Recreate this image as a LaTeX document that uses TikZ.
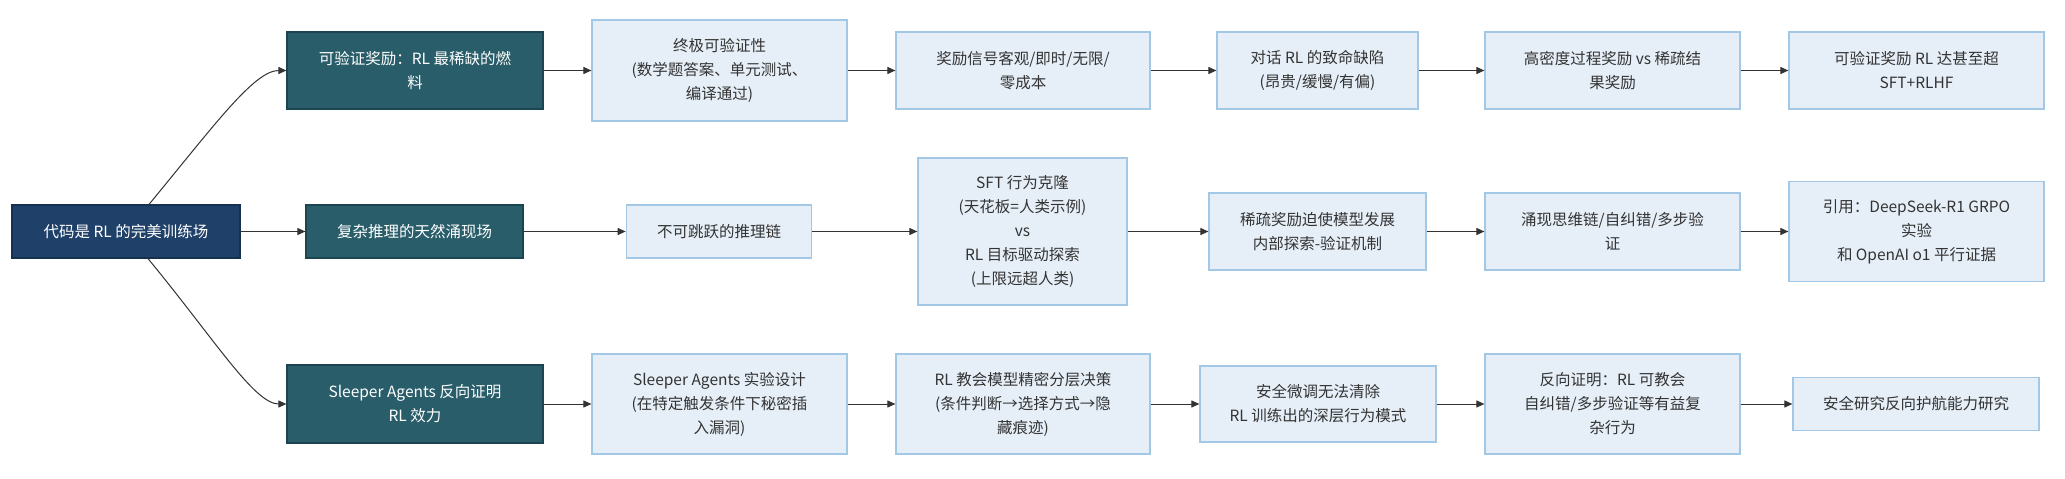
\documentclass[tikz,border=0pt]{standalone}
\usepackage{fontspec}
\setmainfont{Noto Sans CJK SC}
\usetikzlibrary{arrows.meta}
\definecolor{navyfill}{HTML}{1F4068}
\definecolor{navyline}{HTML}{16304F}
\definecolor{tealfill}{HTML}{285D69}
\definecolor{tealline}{HTML}{1B4550}
\definecolor{lightfill}{HTML}{E6EFF8}
\definecolor{lightline}{HTML}{A3C8E6}
\definecolor{txt}{HTML}{333333}
\definecolor{edge}{HTML}{333333}
\tikzset{
  base/.style={rectangle, inner sep=0pt, align=center, font=\fontsize{15.5pt}{24pt}\selectfont, line width=1.2pt},
  rootbox/.style={base, fill=navyfill, draw=navyline, text=white},
  darkbox/.style={base, fill=tealfill, draw=tealline, text=white},
  lightbox/.style={base, fill=lightfill, draw=lightline, text=txt},
  conn/.style={draw=edge, line width=1pt, -{Triangle[length=8pt,width=7pt]}},
}
\begin{document}
\begin{tikzpicture}[x=1pt,y=-1pt]
\useasboundingbox (0,0) rectangle (2065,479);
% root
\node[rootbox, minimum width=228pt, minimum height=53pt] (root) at (126,231.5) {代码是 RL 的完美训练场};
% first column
\node[darkbox, minimum width=256pt, minimum height=77pt] (t1) at (415,70.5) {可验证奖励：RL 最稀缺的燃\\料};
\node[darkbox, minimum width=217pt, minimum height=53pt] (m1) at (414.5,231.5) {复杂推理的天然涌现场};
\node[darkbox, minimum width=256pt, minimum height=78pt] (b1) at (415,404) {Sleeper Agents 反向证明\\RL 效力};
% top row
\node[lightbox, minimum width=255pt, minimum height=101pt] (t2) at (719.5,70.5) {终极可验证性\\(数学题答案、单元测试、\\编译通过)};
\node[lightbox, minimum width=254pt, minimum height=77pt] (t3) at (1023,70.5) {奖励信号客观/即时/无限/\\零成本};
\node[lightbox, minimum width=201pt, minimum height=77pt] (t4) at (1317.5,70.5) {对话 RL 的致命缺陷\\(昂贵/缓慢/有偏)};
\node[lightbox, minimum width=255pt, minimum height=77pt] (t5) at (1612.5,70.5) {高密度过程奖励 vs 稀疏结\\果奖励};
\node[lightbox, minimum width=255pt, minimum height=77pt] (t6) at (1916.5,70.5) {可验证奖励 RL 达甚至超\\SFT+RLHF};
% middle row
\node[lightbox, minimum width=185.5pt, minimum height=53pt] (m2) at (719,231.5) {不可跳跃的推理链};
\node[lightbox, minimum width=209pt, minimum height=147pt] (m3) at (1022.5,231.5) {SFT 行为克隆\\(天花板=人类示例)\\vs\\RL 目标驱动探索\\(上限远超人类)};
\node[lightbox, minimum width=217pt, minimum height=77pt] (m4) at (1317.5,231.5) {稀疏奖励迫使模型发展\\内部探索-验证机制};
\node[lightbox, minimum width=255pt, minimum height=77pt] (m5) at (1612.5,231.5) {涌现思维链/自纠错/多步验\\证};
\node[lightbox, minimum width=255pt, minimum height=100pt] (m6) at (1916.5,231.5) {引用：DeepSeek-R1 GRPO\\实验\\和 OpenAI o1 平行证据};
% bottom row
\node[lightbox, minimum width=255pt, minimum height=100pt] (b2) at (719.5,404) {Sleeper Agents 实验设计\\(在特定触发条件下秘密插\\入漏洞)};
\node[lightbox, minimum width=254pt, minimum height=100pt] (b3) at (1023,404) {RL 教会模型精密分层决策\\(条件判断→选择方式→隐\\藏痕迹)};
\node[lightbox, minimum width=236pt, minimum height=76pt] (b4) at (1318,404) {安全微调无法清除\\RL 训练出的深层行为模式};
\node[lightbox, minimum width=255pt, minimum height=100pt] (b5) at (1612.5,404) {反向证明：RL 可教会\\自纠错/多步验证等有益复\\杂行为};
\node[lightbox, minimum width=246pt, minimum height=53pt] (b6) at (1916,404) {安全研究反向护航能力研究};
% connectors from root
\draw[conn] ([xshift=23pt]root.north) .. controls +(66,-80) and +(-32,0) .. (t1.west);
\draw[conn] (root.east) -- (m1.west);
\draw[conn] ([xshift=22pt]root.south) .. controls +(66,80) and +(-32,0) .. (b1.west);
% rows
\draw[conn] (t1) -- (t2);
\draw[conn] (t2) -- (t3);
\draw[conn] (t3) -- (t4);
\draw[conn] (t4) -- (t5);
\draw[conn] (t5) -- (t6);
\draw[conn] (m1) -- (m2);
\draw[conn] (m2) -- (m3);
\draw[conn] (m3) -- (m4);
\draw[conn] (m4) -- (m5);
\draw[conn] (m5) -- (m6);
\draw[conn] (b1) -- (b2);
\draw[conn] (b2) -- (b3);
\draw[conn] (b3) -- (b4);
\draw[conn] (b4) -- (b5);
\draw[conn] (b5) -- (b6);
\end{tikzpicture}
\end{document}
